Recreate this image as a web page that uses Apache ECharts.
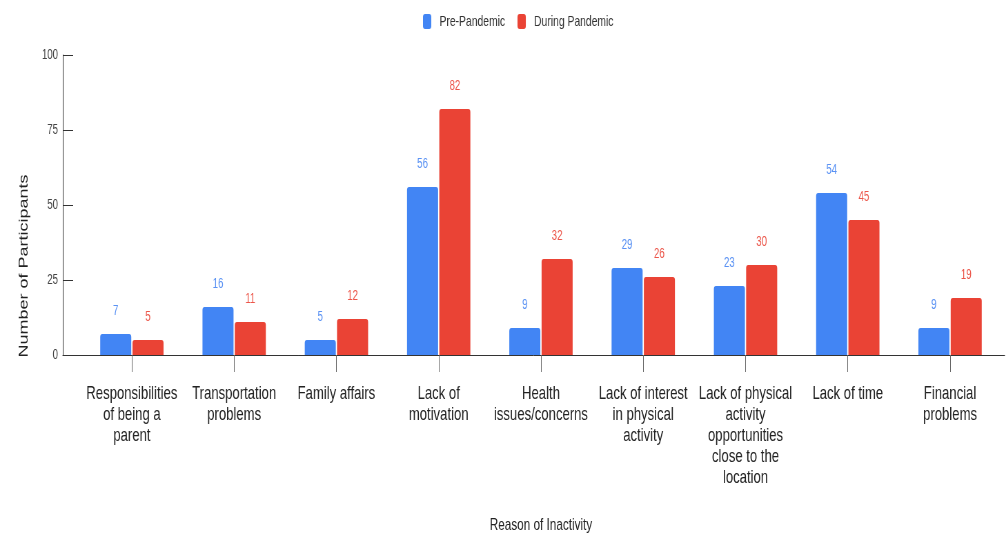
<!DOCTYPE html>
<html>
<head>
<meta charset="utf-8">
<script src="https://cdn.jsdelivr.net/npm/echarts@6/dist/echarts.min.js"></script>
<style>
  html, body { margin: 0; padding: 0; background: #fff; overflow: hidden; }
  #wrap { width: 1007px; height: 536px; overflow: hidden; }
  /* chart is laid out wide and narrowed horizontally */
  #chart { width: 1459px; height: 536px; transform: scaleX(0.69); transform-origin: 0 0; }
</style>
</head>
<body>
<div id="wrap"><div id="chart"></div></div>
<script>
const categories = [
  'Responsibilities\nof being a\nparent',
  'Transportation\nproblems',
  'Family affairs',
  'Lack of\nmotivation',
  'Health\nissues/concerns',
  'Lack of interest\nin physical\nactivity',
  'Lack of physical\nactivity\nopportunities\nclose to the\nlocation',
  'Lack of time',
  'Financial\nproblems'
];
const prePandemic = [7, 16, 5, 56, 9, 29, 23, 54, 9];
const duringPandemic = [5, 11, 12, 82, 32, 26, 30, 45, 19];
const seriesNames = ['Pre-Pandemic', 'During Pandemic'];
const yTicks = [0, 25, 50, 75, 100];

const FONT = 'Liberation Sans, Arial, sans-serif';
const BLUE = '#4285F4';
const RED = '#EA4335';

const chart = echarts.init(document.getElementById('chart'));

function barSeries(name, data, color, labelColor) {
  return {
    name: name,
    type: 'bar',
    xAxisIndex: 1,
    yAxisIndex: 1,
    data: data,
    barWidth: 45,
    barGap: '4%',
    itemStyle: { color: color, borderRadius: [3, 3, 0, 0] },
    label: {
      show: true,
      position: 'top',
      distance: 16,
      color: labelColor,
      fontSize: 14,
      fontFamily: FONT
    }
  };
}

chart.setOption({
  animation: false,
  backgroundColor: '#ffffff',
  legend: {
    data: seriesNames,
    left: 608,
    top: 9,
    itemWidth: 12,
    itemHeight: 15,
    itemGap: 18,
    icon: 'roundRect',
    textStyle: { fontSize: 15, color: '#333', fontFamily: FONT, padding: [0, 0, 0, 7] }
  },
  grid: [
    { left: 91, right: 3, top: 55, bottom: 181, outerBoundsMode: 'none' },
    { left: 117, right: 8, top: 55, bottom: 181, outerBoundsMode: 'none' }
  ],
  xAxis: [
    {
      gridIndex: 0,
      type: 'value',
      min: 0,
      max: 1,
      axisLine: { show: true, onZero: false, lineStyle: { color: '#333', width: 1 } },
      axisTick: { show: false },
      axisLabel: { show: false },
      splitLine: { show: false }
    },
    {
      gridIndex: 1,
      type: 'category',
      data: categories,
      axisLine: { show: false },
      axisTick: { show: true, alignWithLabel: true, length: 17, lineStyle: { color: '#666' } },
      axisLabel: {
        interval: 0,
        margin: 28,
        fontSize: 19,
        lineHeight: 21,
        color: '#222',
        fontFamily: FONT
      },
      name: 'Reason of Inactivity',
      nameLocation: 'middle',
      nameGap: 162,
      nameTextStyle: { fontSize: 17, color: '#222', fontFamily: FONT }
    }
  ],
  yAxis: [
    {
      gridIndex: 0,
      type: 'value',
      min: yTicks[0],
      max: yTicks[yTicks.length - 1],
      interval: 25,
      axisLine: { show: true, lineStyle: { color: '#333', width: 1 } },
      axisTick: { show: true, inside: true, length: 15, lineStyle: { color: '#333' } },
      axisLabel: { margin: 7, fontSize: 14, color: '#444', fontFamily: FONT },
      splitLine: { show: false }
    },
    {
      gridIndex: 1,
      type: 'value',
      min: yTicks[0],
      max: yTicks[yTicks.length - 1],
      show: false
    }
  ],
  graphic: [
    {
      type: 'text',
      x: 35,
      y: 266,
      rotation: Math.PI / 2,
      style: {
        text: 'Number of Participants',
        fontSize: 18,
        fill: '#222',
        fontFamily: FONT,
        align: 'center',
        verticalAlign: 'middle'
      }
    }
  ],
  series: [
    barSeries(seriesNames[0], prePandemic, BLUE, '#5a92f4'),
    barSeries(seriesNames[1], duringPandemic, RED, '#ec5549')
  ]
});
</script>
</body>
</html>
